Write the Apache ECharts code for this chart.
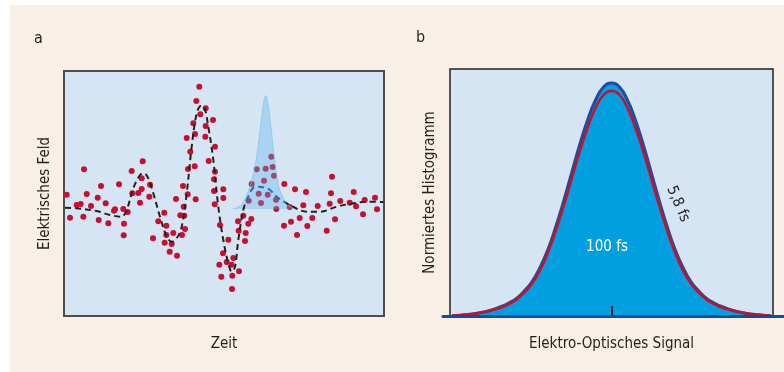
<!DOCTYPE html>
<html>
<head>
<meta charset="utf-8">
<script src="https://cdn.jsdelivr.net/npm/echarts@6/dist/echarts.min.js"></script>
<style>
html,body{margin:0;padding:0;background:#ffffff;}
#wrap{position:absolute;left:10px;top:5px;width:774px;height:367px;background:#f8f0e6;}
#chart{position:absolute;left:0;top:0;width:784px;height:372px;}
</style>
</head>
<body>
<div id="wrap"></div>
<div id="chart"></div>
<script>
// ---------- Panel a: measured field (time units, field units) ----------
const measuredPoints = [
  [2.7,13.3],[6,-9.7],[12.7,3],[16.7,4],[20,38.7],[19.3,-8.7],[22.7,14],[27,2],[33.7,10.3],[34.7,-12],
  [37,22],[41.7,4.7],[44.3,-15.3],[50,-2.7],[51,-1.3],[55,23.7],[59.3,-1],[60,-15.7],[59.7,-27.3],[63.7,-4],
  [67.7,37],[68.3,14.7],[74.3,15],[76,5.3],[77.7,29.7],[77.7,19],[78.7,46.7],[86,23.3],[85.3,11.3],[89,-30.3],
  [94.3,-13.3],[100.3,-4.7],[102.3,-17.7],[102.3,-27],[100.7,-34.7],[105.7,-43.7],[107.7,-36],[109.3,-25],[113,-47.7],[112,9],
  [116.3,-7.3],[118,-27],[119.7,1.3],[120.3,-7.7],[121,-21],[119,22],[123.7,13.7],[124,39],[126.3,56.3],[122.7,70],
  [129.3,84.7],[130.7,41.7],[131.7,8.7],[131,74],[132.3,107],[135.3,121.3],[136.3,93.7],[141.7,99.7],[141.7,82],[141.3,71.3],
  [149,88],[151,61.3],[144.7,47],[151,36.3],[150,28.7],[150,17],[159.3,18.7],[159.3,10],[150.7,3.7],[156,-17],
  [164.3,-31.7],[159,-45.3],[155.3,-56.7],[162.7,-54],[157.3,-68.7],[169.3,-50],[167.3,-56.7],[175,-63.3],[168.3,-67.7],[168,-81],
  [174,-13.3],[174.7,-22.7],[179.3,-7.7],[181.7,-25],[181,-33],[184.3,-15.7],[187.3,-11],[184.7,7.3],[187.7,24],[192.7,38.7],
  [194.7,14.3],[197,5],[200,27.3],[201.7,39.3],[203.7,13.3],[207.3,51.3],[208.7,41],[210,32.3],[212,8.3],[212.3,-1],
  [220.3,24],[220,-17.7],[225.7,1],[227,-13.7],[231,18.7],[233,-27],[235.7,-10],[239.3,2.7],[242,16],[243.3,-18],
  [248.3,-10],[253.7,2],[262.7,-22.7],[265.7,4.3],[267,14.7],[268,31.3],[271,-11.3],[276.3,7],[285.7,5.3],[289.7,16],
  [292,1.7],[299,-6.3],[300.7,8],[311,10.3],[313,-1.3]
];
const fittedCurve = [
  [1,0.3],[12.7,-0.3],[32.7,-3],[46,-7],[57.7,-8.7],[62.7,-2],[69.3,19.7],[76,33],[80,34.7],[84.3,29.7],
  [89.3,14.7],[96,-8.7],[102.7,-28.7],[107.7,-33.7],[112.7,-30.3],[117.7,-18.7],[122.7,14.7],[127.7,61.3],[132.7,94.7],[137,102],
  [140,101.3],[144.3,81.3],[149.3,48],[154.3,1.3],[159.3,-32],[164.3,-55.3],[167.7,-63.7],[171,-58.7],[174.3,-32],[179.3,-2],
  [184.3,11.3],[189,20],[194.3,21.3],[201,20.3],[206,18],[212.7,11.3],[226,3],[242.7,-3.7],[256,-3.7],[272.7,1.3],
  [289.3,4.7],[302.7,6.3],[319.3,6]
];
const probePulse = [
  [169.3,-1],[174,1],[178,4],[181.7,11],[185,19],[188,29],[190.3,38],[192.5,51],[195,69],[197,85],
  [199,101],[200.5,109],[201.7,112.5],[203,109],[204.5,101],[206.5,85],[208.5,67],[211,45],[213.5,28],[216,17],
  [219.5,10],[222,5],[226,1.5],[230,0],[234,-1]
];

// ---------- Panel b: histogram of electro-optic signal ----------
const signalX   = [-160,-152,-144,-136,-128,-120,-112,-104,-96,-88,-80,-72,-64,-56,-48,-40,-32,-24,-16,-8,0,
                   8,16,24,32,40,48,56,64,72,80,88,96,104,112,120,128,136,144,152,160];
const hist100fs = [0.3,0.8,1.5,2.5,4,6,9,12.5,17,24.5,34,48,66,89,115,143,171,196,216,229,233,
                   229,216,196,171,143,115,89,66,48,34,24.5,17,12.5,9,6,4,2.5,1.5,0.8,0.3];
const hist58fs  = [0.3,0.8,1.5,2.5,4,6,8,11.5,16,23,32,45,63,85,110,137,164,188,208,221,225,
                   221,208,188,164,137,110,85,63,45,32,23,16,11.5,8,6,4,2.5,1.5,0.8,0.3];
const signalTicks = [0];

const FONT = "'Liberation Sans Narrow','DejaVu Sans Condensed','Roboto Condensed',sans-serif";
const TXT = '#231f20';

const chart = echarts.init(document.getElementById('chart'), null, {renderer:'canvas'});

const pairs = (xs, ys) => xs.map((x, i) => [x, ys[i]]);

const dashColor = new echarts.graphic.LinearGradient(0, 0, 1, 0, [
  {offset:0, color:'#231f20'},{offset:0.566, color:'#231f20'},
  {offset:0.566, color:'#1f6fb8'},{offset:0.69, color:'#1f6fb8'},
  {offset:0.69, color:'#231f20'},{offset:1, color:'#231f20'}
]);

const option = {
  backgroundColor: 'transparent',
  animation: false,
  textStyle: {fontFamily: FONT},
  grid: [
    {left:64, top:71, width:320, height:245, show:true, backgroundColor:'#d5e5f4', borderColor:'#4d4d4f', borderWidth:2},
    {left:450, top:69, width:323, height:247, show:true, backgroundColor:'#d5e5f4', borderColor:'#231f20', borderWidth:1.5},
    {left:443, top:69, width:341, height:247, show:false}
  ],
  xAxis: [
    {gridIndex:0, type:'value', min:0, max:320, axisLine:{show:false}, axisTick:{show:false}, axisLabel:{show:false}, splitLine:{show:false},
     name:'Zeit', nameLocation:'middle', nameGap:21, nameTextStyle:{fontSize:15, color:TXT, fontFamily:FONT}},
    {gridIndex:1, type:'value', min:-162, max:162, interval:162, z:10, axisLine:{show:false},
     axisTick:{show:true, inside:true, length:10, customValues:signalTicks, lineStyle:{color:'#231f20', width:2}},
     axisLabel:{show:false}, splitLine:{show:false},
     name:'Elektro-Optisches Signal', nameLocation:'middle', nameGap:21, nameTextStyle:{fontSize:15, color:TXT, fontFamily:FONT}},
    {gridIndex:2, type:'value', min:0, max:1, z:11, axisLine:{show:true, lineStyle:{color:'#0d4f9e', width:3}}, axisTick:{show:false}, axisLabel:{show:false}, splitLine:{show:false}}
  ],
  yAxis: [
    {gridIndex:0, type:'value', min:-108, max:137, axisLine:{show:false}, axisTick:{show:false}, axisLabel:{show:false}, splitLine:{show:false},
     name:'Elektrisches Feld', nameLocation:'middle', nameGap:11, nameTextStyle:{fontSize:15, color:TXT, fontFamily:FONT}},
    {gridIndex:1, type:'value', min:0, max:247, axisLine:{show:false}, axisTick:{show:false}, axisLabel:{show:false}, splitLine:{show:false},
     name:'Normiertes Histogramm', nameLocation:'middle', nameGap:12, nameTextStyle:{fontSize:15, color:TXT, fontFamily:FONT}},
    {gridIndex:2, type:'value', min:0, max:1, show:false}
  ],
  series: [
    {type:'scatter', xAxisIndex:0, yAxisIndex:0, data:measuredPoints, symbolSize:6, z:2,
     itemStyle:{color:'#c8102e', opacity:1}},
    {type:'line', xAxisIndex:0, yAxisIndex:0, data:probePulse, smooth:0.4, symbol:'none', z:3,
     lineStyle:{color:'#7cc0ea', width:0.8, opacity:0.8},
     areaStyle:{color:'rgba(88,178,232,0.5)', origin:-1}},
    {type:'line', xAxisIndex:0, yAxisIndex:0, data:fittedCurve, smooth:0.35, symbol:'none', z:4,
     lineStyle:{color:dashColor, width:2, type:[6,4]}},
    {type:'line', xAxisIndex:1, yAxisIndex:1, data:pairs(signalX, hist100fs), smooth:0.5, symbol:'none', z:3,
     lineStyle:{color:'#1d4f9a', width:3},
     areaStyle:{color:'#009fe0', opacity:1, origin:0}},
    {type:'line', xAxisIndex:1, yAxisIndex:1, data:pairs(signalX, hist58fs), smooth:0.5, symbol:'none', z:4,
     lineStyle:{color:'#c8102e', width:2.5}}
  ],
  graphic: [
    {type:'text', z:100, left:34, top:31, style:{text:'a', font:'16px '+FONT, fill:TXT}},
    {type:'text', z:100, left:416, top:30, style:{text:'b', font:'16px '+FONT, fill:TXT}},
    {type:'text', z:100, x:607, y:247, style:{text:'100 fs', font:'15px '+FONT, fill:'#ffffff', align:'center', verticalAlign:'middle'}},
    {type:'text', z:100, x:678, y:204, rotation:-67*Math.PI/180, style:{text:'5,8 fs', font:'15px '+FONT, fill:TXT, align:'center', verticalAlign:'middle'}}
  ]
};
chart.setOption(option);
</script>
</body>
</html>
